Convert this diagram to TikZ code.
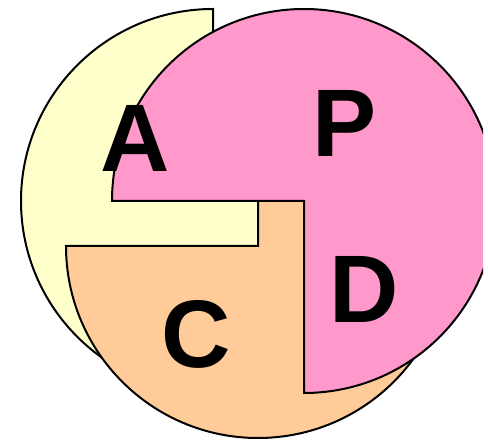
\documentclass[tikz,border=0pt]{standalone}
\usepackage{fontspec}
\setmainfont{Liberation Sans}
\definecolor{pdcayellow}{HTML}{FFFFCC}
\definecolor{pdcapink}{HTML}{FF99CC}
\definecolor{pdcaorange}{HTML}{FFCC99}
\tikzset{
  quarterpie/.style={draw=black, line width=2pt, line join=miter},
  biglabel/.style={inner sep=0pt, font=\fontsize{96}{96}\selectfont\bfseries}
}
\begin{document}
\begin{tikzpicture}[x=1pt,y=1pt]
\useasboundingbox (0,0) rectangle (488,441);
\begin{scope}
\clip (-5,-5) rectangle (483,446);
% A (yellow) - missing upper-right quadrant
\path[quarterpie, fill=pdcayellow] (213,240) -- (213,432) arc[start angle=90, end angle=360, radius=192] -- cycle;
% C (orange) - missing upper-left quadrant
\path[quarterpie, fill=pdcaorange] (258,195) -- (66,195) arc[start angle=180, end angle=450, radius=192] -- cycle;
% P/D (pink) - missing lower-left quadrant
\path[quarterpie, fill=pdcapink] (304,240) -- (112,240) arc[start angle=180, end angle=-90, radius=192] -- cycle;
\end{scope}
\node[biglabel] (A) at (135,303) {A};
\node[biglabel] (P) at (345,318) {P};
\node[biglabel] (D) at (364,152) {D};
\node[biglabel] (C) at (196,107) {C};
\end{tikzpicture}
\end{document}
